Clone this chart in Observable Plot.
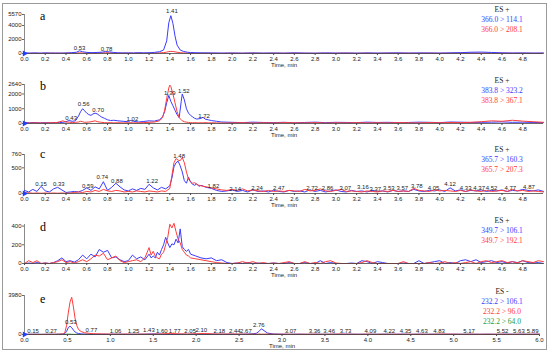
<!DOCTYPE html>
<html><head><meta charset="utf-8">
<script src="https://cdn.jsdelivr.net/npm/d3@7"></script>
<script src="https://cdn.jsdelivr.net/npm/@observablehq/plot@0.6"></script>
<style>
body{margin:0;background:#fff;}
#wrap{position:relative;width:550px;height:354px;overflow:hidden;background:#fff;}
#frame{position:absolute;left:2px;top:3px;width:545px;height:347px;border:1px solid #9a9a9a;box-sizing:border-box;}
.panel{position:absolute;left:0;}
.leg{position:absolute;left:462px;width:80px;text-align:center;font-family:"Liberation Serif","Times New Roman",serif;font-size:7.5px;line-height:10px;}
.letter{position:absolute;left:40px;font-family:"Liberation Serif","Times New Roman",serif;font-size:12px;line-height:12px;}
</style>
</head><body>
<div id="wrap"><div id="frame"></div></div>
<script>
// ---------- data ----------
const xTicks5 = [0,0.2,0.4,0.6,0.8,1.0,1.2,1.4,1.6,1.8,2.0,2.2,2.4,2.6,2.8,3.0,3.2,3.4,3.6,3.8,4.0,4.2,4.4,4.6,4.8];
const xTicks6 = [0,0.5,1.0,1.5,2.0,2.5,3.0,3.5,4.0,4.5,5.0,5.5,6.0];

// panel a
const tA = [0,0.05,0.1,0.15,0.2,0.25,0.3,0.35,0.4,0.45,0.5,0.53,0.56,0.6,0.65,0.7,0.75,0.78,0.82,0.86,0.9,0.95,1,1.05,1.1,1.15,1.2,1.25,1.3,1.34,1.37,1.39,1.41,1.43,1.45,1.47,1.5,1.53,1.57,1.6,1.65,1.7,1.8,1.9,2,2.1,2.2,2.3,2.4,2.5,2.6,2.7,2.8,2.9,3,3.1,3.2,3.3,3.4,3.5,3.6,3.7,3.8,3.9,4,4.1,4.2,4.3,4.4,4.5,4.6,4.7,4.8,4.9,5];
const aBlue = [90,60,80,50,90,60,70,50,80,110,180,380,250,160,120,150,200,280,230,150,100,80,90,70,120,90,100,160,250,500,1800,4400,5400,4300,2500,1200,500,300,180,140,110,90,80,60,70,50,80,60,70,50,90,60,50,80,60,70,50,80,60,70,90,60,80,70,60,90,120,180,200,150,90,70,80,60,70];
const aRed = [40,30,50,30,40,60,30,50,40,60,70,90,60,50,40,60,80,110,90,60,40,50,40,60,50,40,70,60,90,120,200,270,300,280,240,180,120,80,60,50,40,50,40,30,50,40,60,30,50,40,60,40,30,50,40,60,40,50,30,60,40,50,40,60,40,50,70,60,50,40,60,40,50,40,30];
const aYTicks = [0,2000,4000,5570];
const aLabText = ["0.53","0.78","1.41"];
const aLabX = [0.53,0.79,1.42];
const aLabY = [790,610,5990];

// panel b
const tB = [0,0.05,0.1,0.15,0.2,0.25,0.3,0.34,0.37,0.4,0.43,0.46,0.49,0.52,0.54,0.56,0.58,0.6,0.62,0.64,0.66,0.68,0.7,0.72,0.74,0.77,0.8,0.83,0.86,0.9,0.95,1,1.02,1.05,1.1,1.15,1.2,1.25,1.3,1.33,1.35,1.37,1.39,1.4,1.41,1.43,1.45,1.47,1.49,1.51,1.52,1.54,1.56,1.58,1.6,1.62,1.64,1.66,1.68,1.7,1.72,1.74,1.77,1.8,1.85,1.9,2,2.1,2.2,2.3,2.4,2.5,2.6,2.7,2.8,2.9,3,3.1,3.2,3.3,3.4,3.5,3.6,3.7,3.8,3.9,4,4.1,4.2,4.3,4.4,4.5,4.6,4.7,4.8,4.9,5];
const bBlue = [80,50,70,40,60,50,70,60,80,120,200,150,180,500,800,1000,850,700,600,550,650,700,650,550,450,350,250,200,220,180,150,120,200,150,100,140,180,160,250,450,800,1400,1900,1700,1500,1200,900,600,400,1500,2000,1600,1000,700,550,450,350,300,320,350,420,300,250,200,150,100,80,60,90,70,60,80,50,70,90,60,80,70,60,90,70,80,60,70,90,80,60,100,90,70,80,90,110,80,90,70,60];
const bRed = [40,30,50,40,30,60,50,120,180,100,90,60,80,100,150,120,80,90,100,120,150,180,130,100,80,60,50,60,40,50,40,50,60,40,50,60,80,100,180,400,900,1700,2400,2600,2500,2000,1400,800,400,250,180,120,90,70,60,50,60,50,40,50,40,60,40,50,40,30,40,60,30,50,40,60,50,40,60,30,50,40,60,40,50,40,60,50,40,60,50,70,60,80,120,180,150,220,160,120,80];
const bYTicks = [0,1000,2000,2640];
const bLabText = ["0.43","0.56","0.70","1.02","1.39","1.52","1.72"];
const bLabX = [0.45,0.57,0.71,1.04,1.40,1.535,1.73];
const bLabY = [378,1317,894,309,2036,2190,470];

// panel c
const tC = [0,0.04,0.08,0.12,0.16,0.2,0.24,0.28,0.32,0.36,0.4,0.44,0.48,0.52,0.56,0.6,0.64,0.68,0.72,0.76,0.8,0.84,0.88,0.92,0.96,1,1.04,1.08,1.12,1.16,1.2,1.24,1.28,1.32,1.36,
  1.4,1.42,1.44,1.46,1.48,1.5,1.52,1.54,1.56,1.58,1.6,1.62,1.64,1.66,1.68,
  1.7,1.75,1.8,1.85,1.9,1.95,2,2.05,2.1,2.15,2.2,2.25,2.3,2.35,2.4,2.45,2.5,2.55,2.6,2.65,2.7,2.75,2.8,2.85,2.9,2.95,3,3.05,3.1,3.15,3.2,3.25,3.3,3.35,3.4,3.45,3.5,3.55,3.6,3.65,3.7,3.75,3.8,3.85,3.9,3.95,4,4.05,4.1,4.15,4.2,4.25,4.3,4.35,4.4,4.45,4.5,4.55,4.6,4.65,4.7,4.75,4.8,4.85,4.9,4.95,5];
const cBlue = [60,30,80,40,140,50,30,90,120,70,20,30,40,30,60,110,60,130,90,230,60,120,200,130,70,50,90,60,100,80,180,110,70,120,90,
  150,300,520,600,630,540,420,250,200,320,220,180,160,190,140,
  160,120,100,60,40,50,70,40,60,30,70,40,50,30,60,40,30,60,40,50,30,70,40,60,30,50,70,40,30,60,40,50,30,60,40,50,30,60,40,50,40,80,50,40,60,50,70,40,110,50,70,40,60,50,70,40,60,50,70,40,60,50,80,60,50,70,40];
const cRed = [10,15,5,10,5,10,5,10,5,10,5,10,20,30,20,40,30,60,40,80,50,40,60,50,30,40,30,50,40,30,50,40,30,50,40,
  100,350,600,680,650,640,700,600,420,280,230,200,210,180,160,
  150,130,110,90,70,60,80,60,90,50,70,50,40,60,40,50,40,60,50,40,80,50,60,90,50,40,60,80,40,50,40,30,50,40,30,50,40,60,40,50,40,100,60,50,40,70,50,60,50,40,60,40,70,50,40,60,40,50,60,40,80,50,60,40,50,40,30];
const cYTicks = [0,500,760];
const cLabText = ["0.15","0.33","0.59","0.74","0.88","1.22","1.48","1.82","2.14","2.24","2.47","2.72","2.86","3.07","3.16","3.37","3.53","3.57","3.78","4.05","4.12","4.33","4.37","4.52","4.77","4.87"];
const cLabX = [0.16,0.33,0.61,0.75,0.89,1.23,1.49,1.82,2.03,2.24,2.45,2.77,2.92,3.09,3.26,3.38,3.51,3.64,3.78,3.94,4.10,4.25,4.38,4.50,4.68,4.86];
const cLabY = [193,174,154,315,251,243,733,147,83,97,97,97,97,97,127,77,97,97,147,97,180,97,97,97,97,127];

// panel d
const tD = [0,0.04,0.08,0.12,0.16,0.2,0.24,0.28,0.32,0.36,0.4,0.44,0.48,0.52,0.56,0.6,0.64,0.68,0.72,0.76,0.8,0.84,0.88,0.92,0.96,1,1.04,1.08,1.12,1.16,
  1.2,1.22,1.24,1.26,1.28,1.3,1.32,1.34,1.36,1.38,1.4,1.42,1.44,1.46,1.48,1.5,1.52,1.54,1.56,1.58,1.6,
  1.65,1.7,1.75,1.8,1.85,1.9,1.95,2,2.05,2.1,2.15,2.2,2.25,2.3,2.35,2.4,2.45,2.5,2.55,2.6,2.65,2.7,2.75,2.8,2.85,2.9,2.95,3,3.05,3.1,3.15,3.2,3.25,3.3,3.35,3.4,3.45,3.5,3.55,3.6,3.65,3.7,3.75,3.8,3.85,3.9,3.95,4,4.05,4.1,4.15,4.2,4.25,4.3,4.35,4.4,4.45,4.5,4.55,4.6,4.65,4.7,4.75,4.8,4.85,4.9,4.95,5];
const dBlue = [0,5,0,10,0,5,0,10,30,60,20,30,15,40,90,50,100,70,150,120,140,60,70,40,20,30,90,50,70,40,
  100,60,80,60,120,90,150,200,280,220,170,210,200,260,220,370,180,150,130,150,100,
  80,60,50,60,30,40,10,0,5,0,10,0,5,0,0,5,0,0,10,0,0,10,0,0,30,0,10,0,0,0,5,0,30,20,0,20,10,0,0,0,5,0,0,30,0,10,20,30,0,10,0,30,40,20,40,10,20,30,10,20,5,20,10,30,10,5,10,0];
const dRed = [0,30,10,30,0,5,0,10,20,40,10,20,5,20,40,20,50,90,80,110,40,60,80,30,10,20,30,40,20,60,
  170,90,130,80,60,50,100,120,200,280,420,380,430,340,260,220,150,120,90,80,60,
  50,40,30,20,10,5,0,0,5,20,5,20,0,10,0,5,0,10,20,0,0,20,0,10,0,20,30,5,0,0,0,0,10,30,10,0,0,0,0,0,20,0,0,0,0,10,0,5,20,0,10,0,10,20,0,20,30,10,20,30,10,20,5,30,20,10,30,20];
const dYTicks = [0,200,400];

// panel e
const tE = [0,0.05,0.1,0.15,0.2,0.25,0.3,0.35,0.4,0.45,
  0.47,0.49,0.51,0.53,0.55,0.57,0.59,0.61,0.63,0.66,0.7,
  0.75,0.8,0.9,1,1.1,1.2,1.3,1.4,1.5,1.6,1.7,1.8,1.9,2,2.1,2.2,2.3,2.4,2.5,2.6,
  2.65,2.7,2.73,2.76,2.79,2.83,2.9,
  3,3.1,3.2,3.3,3.4,3.5,3.6,3.7,3.8,3.9,4,4.1,4.2,4.3,4.4,4.5,4.6,4.7,4.8,4.9,5,5.1,5.2,5.3,5.4,5.5,5.6,5.7,5.8,5.9,6];
const eBlue = [20,30,20,30,10,20,30,20,30,40,
  100,300,700,850,700,450,250,150,100,60,40,
  30,20,30,20,30,20,20,30,60,30,20,30,20,30,40,30,20,30,20,40,
  60,120,300,580,400,150,50,
  30,20,30,20,30,20,30,20,30,20,30,20,30,20,30,20,30,20,30,20,30,20,30,20,30,20,30,20,30,20,30];
const eRed = [20,10,20,10,10,20,10,20,30,60,
  200,900,2200,3300,3800,2800,1600,900,500,300,180,
  120,80,50,40,30,40,30,40,30,60,100,60,40,80,100,60,40,50,40,30,
  40,30,40,30,30,40,30,
  30,20,30,20,30,20,30,40,30,20,30,20,30,20,30,20,30,20,30,40,30,20,30,20,30,20,30,20,30,20,30];
const eGreen = [10,5,10,5,10,5,10,5,10,15,
  20,30,40,30,20,15,10,10,10,10,10,
  10,5,10,5,10,5,10,5,10,5,10,5,10,5,10,5,10,5,10,5,
  10,5,10,5,10,5,10,
  5,10,5,10,5,10,5,10,5,10,5,10,5,10,5,10,5,10,5,10,5,10,5,10,5,10,5,10,5,10,5];
const eYTicks = [0,3980];
const eLabText = ["0.15","0.27","0.53","0.77","1.06","1.25","1.43","1.60","1.77","2.05","2.10","2.18","2.44","2.67","2.76","3.07","3.36","3.46","3.73","4.09","4.22","4.35","4.63","4.83","5.17","5.52","5.63","5.89"];
const eLabX = [0.10,0.31,0.54,0.78,1.06,1.27,1.45,1.60,1.75,1.93,2.06,2.27,2.45,2.58,2.73,3.10,3.38,3.55,3.74,4.03,4.25,4.44,4.63,4.83,5.18,5.57,5.76,5.92];
const eLabY = [380,380,1234,450,380,380,420,380,380,380,480,380,380,380,965,380,380,380,380,380,380,380,380,380,380,380,380,380];

// legends
const legends = [
  {top:5, lines:[["ES +","#222"],["366.0 > 114.1","#3b3bff"],["366.0 > 208.1","#ff3b3b"]]},
  {top:76, lines:[["ES +","#222"],["383.8 > 323.2","#3b3bff"],["383.8 > 367.1","#ff3b3b"]]},
  {top:145, lines:[["ES +","#222"],["365.7 > 160.3","#3b3bff"],["365.7 > 207.3","#ff3b3b"]]},
  {top:216, lines:[["ES +","#222"],["349.7 > 106.1","#3b3bff"],["349.7 > 192.1","#ff3b3b"]]},
  {top:287, lines:[["ES -","#222"],["232.2 > 106.1","#3b3bff"],["232.2 > 96.0","#ff3b3b"],["232.2 > 64.0","#1e9a3e"]]}
];
const letters = [["a",9.5],["b",79.5],["c",147.5],["d",220.5],["e",292.5]];

// ---------- drawing ----------
const BLUE = "#3b3bff", RED = "#ff3b3b", GREEN = "#1e9a3e";
const wrap = document.getElementById("wrap");
const rows = (t, v) => t.map((x, i) => ({x, y: v[i]}));
const labs = (tx, xs, ys) => tx.map((s, i) => ({s, x: xs[i], y: ys[i]}));

function panel({top, xmax, mr, ymax, yTicks, xTicks, series, labels, origin=true}) {
  const marks = [
    Plot.ruleX([0], {stroke: "#8a8a8a", strokeWidth: 1}),
    Plot.axisY({ticks: yTicks, tickSize: 2, tickPadding: 1, label: null, tickFormat: d => String(d), stroke: "#666"}),
    Plot.axisX({ticks: xTicks, tickSize: 2, tickPadding: 1, label: null, tickFormat: d3.format(".1f"), stroke: "#444"}),
    Plot.text(["Time, min"], {frameAnchor: "bottom", text: d => d, dy: 13}),
    ...series.map(([t, v, c]) => Plot.line(rows(t, v), {x: "x", y: "y", stroke: c, strokeWidth: 1})),
    Plot.ruleY([0], {stroke: "#444", strokeWidth: 0.8})
  ];
  if (labels) marks.push(Plot.text(labels, {x: "x", y: "y", text: "s", fill: "#222"}));
  if (origin) marks.push(Plot.dot([0], {x: 0, y: 0, symbol: "triangle", r: 2.2, fill: "#1f3fff", stroke: "none", rotate: 90}));
  const svg = Plot.plot({
    width: 550, height: 70,
    marginLeft: 24, marginRight: mr, marginTop: 14, marginBottom: 17,
    x: {domain: [0, xmax]},
    y: {domain: [0, ymax]},
    style: {fontFamily: "'Liberation Sans', Arial, sans-serif", fontSize: "6px", background: "none", color: "#222"},
    marks
  });
  svg.classList.add("panel");
  svg.style.top = top + "px";
  svg.style.position = "absolute";
  svg.style.left = "0px";
  wrap.appendChild(svg);
}

panel({top: 0, xmax: 5, mr: 7, ymax: 5570, yTicks: aYTicks, xTicks: xTicks5,
  series: [[tA, aRed, RED], [tA, aBlue, BLUE]], labels: labs(aLabText, aLabX, aLabY)});
panel({top: 70, xmax: 5, mr: 7, ymax: 2640, yTicks: bYTicks, xTicks: xTicks5,
  series: [[tB, bBlue, BLUE], [tB, bRed, RED]], labels: labs(bLabText, bLabX, bLabY)});
panel({top: 140, xmax: 5, mr: 7, ymax: 760, yTicks: cYTicks, xTicks: xTicks5,
  series: [[tC, cBlue, BLUE], [tC, cRed, RED]], labels: labs(cLabText, cLabX, cLabY)});
panel({top: 210, xmax: 5, mr: 7, ymax: 417, yTicks: dYTicks, xTicks: xTicks5,
  series: [[tD, dBlue, BLUE], [tD, dRed, RED]], labels: null, origin: false});
panel({top: 281, xmax: 6, mr: 11, ymax: 3980, yTicks: eYTicks, xTicks: xTicks6,
  series: [[tE, eGreen, GREEN], [tE, eBlue, BLUE], [tE, eRed, RED]], labels: labs(eLabText, eLabX, eLabY)});

for (const g of legends) {
  const d = document.createElement("div");
  d.className = "leg";
  d.style.top = g.top + "px";
  for (const [s, c] of g.lines) {
    const l = document.createElement("div");
    l.textContent = s; l.style.color = c;
    d.appendChild(l);
  }
  wrap.appendChild(d);
}
for (const [s, t] of letters) {
  const d = document.createElement("div");
  d.className = "letter";
  d.style.top = t + "px";
  d.textContent = s;
  wrap.appendChild(d);
}
</script>
</body></html>
